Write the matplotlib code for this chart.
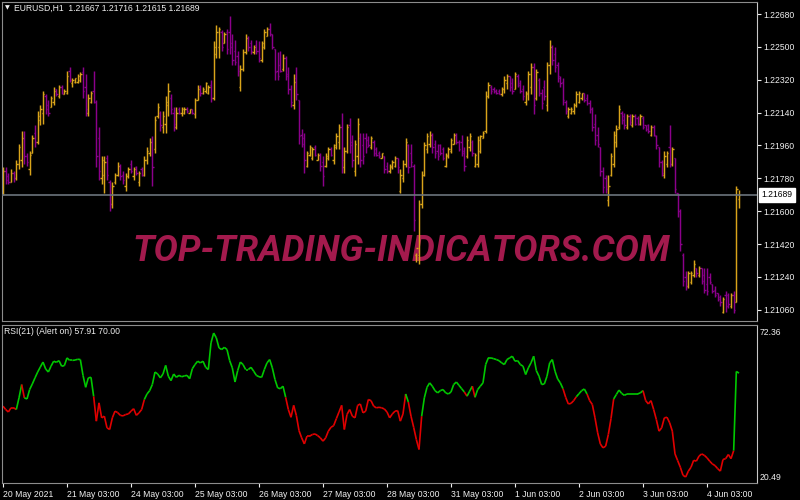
import numpy as np
import matplotlib
matplotlib.use("Agg")
import matplotlib.pyplot as plt
from matplotlib.collections import LineCollection

plt.rcParams['font.family'] = ['Liberation Sans', 'DejaVu Sans']

symbol = "EURUSD,H1"

# hourly bars, 20 May 2021 03:00 -> 4 Jun 2021 15:00
open_ = [
    1.2170, 1.2182, 1.2179, 1.2176, 1.2181, 1.2178, 1.2186, 1.2188, 1.2200, 1.2190,
    1.2183, 1.2192, 1.2203, 1.2198, 1.2210, 1.2214, 1.2223, 1.2218, 1.2217, 1.2220,
    1.2227, 1.2223, 1.2228, 1.2224, 1.2225, 1.2237, 1.2230, 1.2231, 1.2231, 1.2232,
    1.2236, 1.2228, 1.2214, 1.2220, 1.2226, 1.2220, 1.2200, 1.2178, 1.2180, 1.2189,
    1.2176, 1.2164, 1.2176, 1.2180, 1.2185, 1.2180, 1.2174, 1.2179, 1.2186, 1.2179,
    1.2184, 1.2176, 1.2183, 1.2180, 1.2188, 1.2192, 1.2198, 1.2194, 1.2212, 1.2214,
    1.2206, 1.2208, 1.2218, 1.2222, 1.2214, 1.2206, 1.2216, 1.2214, 1.2214, 1.2216,
    1.2214, 1.2216, 1.2213, 1.2221, 1.2228, 1.2225, 1.2226, 1.2225, 1.2229, 1.2222,
    1.2246, 1.2250, 1.2258, 1.2252, 1.2258, 1.2258, 1.2252, 1.2248, 1.2245, 1.2228,
    1.2238, 1.2247, 1.2255, 1.2252, 1.2247, 1.2251, 1.2248, 1.2243, 1.2250, 1.2256,
    1.2260, 1.2257, 1.2249, 1.2237, 1.2240, 1.2238, 1.2244, 1.2235, 1.2227, 1.2218,
    1.2233, 1.2221, 1.2202, 1.2200, 1.2185, 1.2191, 1.2189, 1.2195, 1.2188, 1.2191,
    1.2187, 1.2185, 1.2189, 1.2194, 1.2188, 1.2195, 1.2198, 1.2206, 1.2184, 1.2193,
    1.2207, 1.2198, 1.2182, 1.2190, 1.2200, 1.2196, 1.2200, 1.2199, 1.2195, 1.2198,
    1.2194, 1.2192, 1.2189, 1.2190, 1.2185, 1.2182, 1.2184, 1.2185, 1.2189, 1.2171,
    1.2178, 1.2186, 1.2196, 1.2192, 1.2185, 1.2136, 1.2136, 1.2164, 1.2180, 1.2194,
    1.2197, 1.2202, 1.2197, 1.2193, 1.2196, 1.2194, 1.2185, 1.2190, 1.2193, 1.2197,
    1.2202, 1.2198, 1.2198, 1.2193, 1.2190, 1.2195, 1.2198, 1.2185, 1.2186, 1.2193,
    1.2200, 1.2204, 1.2223, 1.2228, 1.2227, 1.2226, 1.2226, 1.2224, 1.2227, 1.2230,
    1.2234, 1.2230, 1.2227, 1.2234, 1.2230, 1.2227, 1.2220, 1.2224, 1.2228, 1.2239,
    1.2222, 1.2232, 1.2225, 1.2228, 1.2218, 1.2240, 1.2250, 1.2246, 1.2240, 1.2233,
    1.2231, 1.2220, 1.2212, 1.2214, 1.2215, 1.2218, 1.2220, 1.2222, 1.2225, 1.2222,
    1.2219, 1.2216, 1.2208, 1.2202, 1.2195, 1.2182, 1.2178, 1.2166, 1.2180, 1.2186,
    1.2198, 1.2206, 1.2214, 1.2212, 1.2206, 1.2212, 1.2207, 1.2212, 1.2211, 1.2208,
    1.2211, 1.2207, 1.2207, 1.2202, 1.2206, 1.2201, 1.2195, 1.2187, 1.2180, 1.2186,
    1.2195, 1.2186, 1.2189, 1.2170, 1.2160, 1.2136, 1.2124, 1.2119, 1.2121, 1.2125,
    1.2129, 1.2125, 1.2129, 1.2125, 1.2120, 1.2124, 1.2120, 1.2117, 1.2115, 1.2113,
    1.2105, 1.2114, 1.2114, 1.2108, 1.2114, 1.2110, 1.21667,
]
high = [
    1.2184, 1.2184, 1.2181, 1.2183, 1.2182, 1.2188, 1.2197, 1.2204, 1.2204, 1.2192,
    1.2193, 1.2202, 1.2207, 1.2215, 1.2218, 1.2226, 1.2224, 1.2221, 1.2223, 1.2228,
    1.2227, 1.2229, 1.2229, 1.2227, 1.2237, 1.2239, 1.2233, 1.2233, 1.2235, 1.2236,
    1.2239, 1.2235, 1.2224, 1.2226, 1.2237, 1.2221, 1.2206, 1.2190, 1.2190, 1.2191,
    1.2177, 1.2176, 1.2181, 1.2187, 1.2186, 1.2182, 1.2181, 1.2184, 1.2188, 1.2184,
    1.2185, 1.2182, 1.2184, 1.2190, 1.2195, 1.2200, 1.2201, 1.2212, 1.2219, 1.2215,
    1.2215, 1.2223, 1.2230, 1.2224, 1.2217, 1.2217, 1.2217, 1.2217, 1.2217, 1.2217,
    1.2216, 1.2216, 1.2222, 1.2229, 1.2229, 1.2228, 1.2231, 1.2229, 1.2232, 1.2253,
    1.2262, 1.2261, 1.2259, 1.2258, 1.2260, 1.2267, 1.2257, 1.2254, 1.2248, 1.2240,
    1.2249, 1.2257, 1.2256, 1.2254, 1.2251, 1.2254, 1.2253, 1.2253, 1.2260, 1.2261,
    1.2263, 1.2257, 1.2249, 1.2247, 1.2248, 1.2246, 1.2245, 1.2239, 1.2229, 1.2235,
    1.2239, 1.2221, 1.2205, 1.2203, 1.2193, 1.2196, 1.2195, 1.2196, 1.2192, 1.2192,
    1.2190, 1.2192, 1.2195, 1.2195, 1.2197, 1.2203, 1.2208, 1.2214, 1.2195, 1.2208,
    1.2211, 1.2202, 1.2199, 1.2211, 1.2203, 1.2203, 1.2203, 1.2201, 1.2201, 1.2199,
    1.2195, 1.2193, 1.2192, 1.2190, 1.2187, 1.2186, 1.2188, 1.2190, 1.2189, 1.2183,
    1.2188, 1.2200, 1.2197, 1.2197, 1.2186, 1.2137, 1.2166, 1.2182, 1.2198, 1.2203,
    1.2204, 1.2203, 1.2199, 1.2197, 1.2197, 1.2195, 1.2192, 1.2195, 1.2200, 1.2203,
    1.2203, 1.2199, 1.2202, 1.2195, 1.2201, 1.2203, 1.2199, 1.2192, 1.2201, 1.2202,
    1.2204, 1.2226, 1.2231, 1.2229, 1.2228, 1.2227, 1.2227, 1.2228, 1.2234, 1.2235,
    1.2234, 1.2233, 1.2236, 1.2235, 1.2232, 1.2229, 1.2226, 1.2237, 1.2241, 1.2241,
    1.2238, 1.2233, 1.2227, 1.2232, 1.2242, 1.2254, 1.2251, 1.2250, 1.2242, 1.2234,
    1.2233, 1.2221, 1.2217, 1.2217, 1.2219, 1.2226, 1.2226, 1.2225, 1.2225, 1.2224,
    1.2221, 1.2217, 1.2213, 1.2206, 1.2195, 1.2184, 1.2180, 1.2180, 1.2192, 1.2204,
    1.2207, 1.2218, 1.2215, 1.2214, 1.2213, 1.2213, 1.2213, 1.2213, 1.2212, 1.2213,
    1.2212, 1.2207, 1.2208, 1.2207, 1.2207, 1.2202, 1.2195, 1.2188, 1.2193, 1.2193,
    1.2207, 1.2195, 1.2189, 1.2170, 1.2161, 1.2137, 1.2127, 1.2127, 1.2127, 1.2133,
    1.2129, 1.2130, 1.2129, 1.2129, 1.2129, 1.2126, 1.2120, 1.2119, 1.2115, 1.2114,
    1.2113, 1.2116, 1.2115, 1.2115, 1.2116, 1.2174, 1.21716,
]
low = [
    1.2169, 1.2175, 1.2175, 1.2176, 1.2176, 1.2177, 1.2183, 1.2184, 1.2186, 1.2185,
    1.2180, 1.2192, 1.2195, 1.2197, 1.2207, 1.2208, 1.2213, 1.2212, 1.2217, 1.2218,
    1.2223, 1.2222, 1.2224, 1.2224, 1.2224, 1.2231, 1.2228, 1.2230, 1.2230, 1.2231,
    1.2222, 1.2212, 1.2212, 1.2219, 1.2219, 1.2184, 1.2177, 1.2175, 1.2170, 1.2177,
    1.2160, 1.2162, 1.2175, 1.2179, 1.2177, 1.2175, 1.2171, 1.2178, 1.2181, 1.2177,
    1.2180, 1.2174, 1.2179, 1.2179, 1.2186, 1.2190, 1.2174, 1.2192, 1.2211, 1.2204,
    1.2203, 1.2203, 1.2212, 1.2213, 1.2204, 1.2205, 1.2213, 1.2212, 1.2213, 1.2214,
    1.2214, 1.2213, 1.2211, 1.2221, 1.2223, 1.2224, 1.2225, 1.2224, 1.2220, 1.2221,
    1.2244, 1.2244, 1.2248, 1.2252, 1.2246, 1.2246, 1.2240, 1.2240, 1.2234, 1.2226,
    1.2237, 1.2246, 1.2248, 1.2246, 1.2246, 1.2246, 1.2242, 1.2242, 1.2249, 1.2256,
    1.2256, 1.2249, 1.2232, 1.2232, 1.2236, 1.2237, 1.2232, 1.2224, 1.2217, 1.2216,
    1.2221, 1.2197, 1.2195, 1.2181, 1.2184, 1.2190, 1.2188, 1.2190, 1.2188, 1.2182,
    1.2174, 1.2184, 1.2188, 1.2190, 1.2186, 1.2194, 1.2194, 1.2181, 1.2181, 1.2192,
    1.2192, 1.2184, 1.2179, 1.2186, 1.2184, 1.2186, 1.2192, 1.2195, 1.2194, 1.2190,
    1.2190, 1.2189, 1.2189, 1.2181, 1.2181, 1.2181, 1.2183, 1.2184, 1.2181, 1.2170,
    1.2176, 1.2184, 1.2181, 1.2184, 1.2149, 1.2132, 1.2131, 1.2162, 1.2179, 1.2192,
    1.2195, 1.2192, 1.2189, 1.2188, 1.2191, 1.2188, 1.2184, 1.2189, 1.2192, 1.2197,
    1.2197, 1.2193, 1.2190, 1.2182, 1.2189, 1.2193, 1.2190, 1.2184, 1.2184, 1.2192,
    1.2200, 1.2203, 1.2222, 1.2224, 1.2225, 1.2224, 1.2224, 1.2223, 1.2225, 1.2227,
    1.2226, 1.2224, 1.2227, 1.2228, 1.2225, 1.2221, 1.2218, 1.2221, 1.2224, 1.2213,
    1.2221, 1.2223, 1.2216, 1.2221, 1.2215, 1.2235, 1.2240, 1.2236, 1.2231, 1.2228,
    1.2218, 1.2213, 1.2211, 1.2213, 1.2213, 1.2217, 1.2219, 1.2221, 1.2220, 1.2218,
    1.2214, 1.2204, 1.2196, 1.2195, 1.2179, 1.2170, 1.2170, 1.2163, 1.2179, 1.2184,
    1.2195, 1.2205, 1.2208, 1.2205, 1.2205, 1.2207, 1.2206, 1.2207, 1.2207, 1.2207,
    1.2205, 1.2204, 1.2203, 1.2201, 1.2201, 1.2194, 1.2184, 1.2179, 1.2178, 1.2184,
    1.2184, 1.2185, 1.2170, 1.2157, 1.2138, 1.2119, 1.2117, 1.2118, 1.2120, 1.2124,
    1.2124, 1.2124, 1.2120, 1.2115, 1.2114, 1.2120, 1.2115, 1.2113, 1.2111, 1.2108,
    1.2104, 1.2105, 1.2107, 1.2107, 1.2104, 1.2110, 1.21615,
]
close = [
    1.2182, 1.2177, 1.2176, 1.2181, 1.2178, 1.2186, 1.2195, 1.2200, 1.2190, 1.2187,
    1.2191, 1.2200, 1.2198, 1.2212, 1.2216, 1.2224, 1.2216, 1.2214, 1.2222, 1.2226,
    1.2224, 1.2228, 1.2225, 1.2226, 1.2234, 1.2232, 1.2232, 1.2233, 1.2234, 1.2235,
    1.2226, 1.2216, 1.2222, 1.2225, 1.2220, 1.2190, 1.2182, 1.2188, 1.2187, 1.2180,
    1.2164, 1.2174, 1.2180, 1.2185, 1.2179, 1.2177, 1.2179, 1.2183, 1.2182, 1.2183,
    1.2181, 1.2181, 1.2180, 1.2188, 1.2193, 1.2198, 1.2184, 1.2210, 1.2217, 1.2207,
    1.2212, 1.2220, 1.2226, 1.2216, 1.2208, 1.2214, 1.2214, 1.2216, 1.2216, 1.2215,
    1.2216, 1.2214, 1.2221, 1.2227, 1.2225, 1.2227, 1.2230, 1.2228, 1.2222, 1.2250,
    1.2258, 1.2260, 1.2250, 1.2257, 1.2249, 1.2250, 1.2243, 1.2242, 1.2237, 1.2238,
    1.2247, 1.2255, 1.2250, 1.2248, 1.2250, 1.2248, 1.2244, 1.2252, 1.2258, 1.2260,
    1.2257, 1.2250, 1.2236, 1.2234, 1.2237, 1.2244, 1.2234, 1.2227, 1.2220, 1.2231,
    1.2224, 1.2201, 1.2197, 1.2188, 1.2192, 1.2195, 1.2194, 1.2191, 1.2191, 1.2185,
    1.2179, 1.2190, 1.2194, 1.2191, 1.2196, 1.2201, 1.2206, 1.2188, 1.2193, 1.2206,
    1.2196, 1.2188, 1.2197, 1.2208, 1.2188, 1.2190, 1.2195, 1.2196, 1.2200, 1.2192,
    1.2191, 1.2190, 1.2192, 1.2183, 1.2182, 1.2185, 1.2187, 1.2189, 1.2184, 1.2180,
    1.2186, 1.2198, 1.2184, 1.2187, 1.2155, 1.2140, 1.2164, 1.2180, 1.2196, 1.2201,
    1.2202, 1.2195, 1.2192, 1.2190, 1.2192, 1.2189, 1.2191, 1.2194, 1.2199, 1.2202,
    1.2198, 1.2194, 1.2192, 1.2185, 1.2199, 1.2201, 1.2192, 1.2191, 1.2199, 1.2201,
    1.2203, 1.2223, 1.2229, 1.2226, 1.2226, 1.2225, 1.2224, 1.2227, 1.2232, 1.2234,
    1.2228, 1.2226, 1.2235, 1.2229, 1.2226, 1.2223, 1.2225, 1.2235, 1.2239, 1.2218,
    1.2236, 1.2225, 1.2219, 1.2223, 1.2240, 1.2250, 1.2243, 1.2239, 1.2234, 1.2230,
    1.2221, 1.2215, 1.2216, 1.2216, 1.2218, 1.2224, 1.2225, 1.2225, 1.2221, 1.2219,
    1.2216, 1.2206, 1.2199, 1.2197, 1.2182, 1.2173, 1.2172, 1.2174, 1.2190, 1.2202,
    1.2205, 1.2216, 1.2210, 1.2207, 1.2212, 1.2209, 1.2212, 1.2208, 1.2208, 1.2212,
    1.2206, 1.2205, 1.2204, 1.2206, 1.2202, 1.2196, 1.2187, 1.2181, 1.2190, 1.2192,
    1.2186, 1.2194, 1.2172, 1.2160, 1.2142, 1.2122, 1.2119, 1.2126, 1.2126, 1.2131,
    1.2126, 1.2129, 1.2122, 1.2117, 1.2116, 1.2121, 1.2116, 1.2114, 1.2112, 1.2110,
    1.2112, 1.2108, 1.2109, 1.2114, 1.2106, 1.2172, 1.21689,
]

rsi = [
    46.0, 44.8, 43.9, 45.4, 45.4, 44.8, 49.0, 53.8, 49.0, 48.6,
    52.0, 54.0, 56.2, 58.3, 60.1, 61.9, 59.4, 58.3, 60.4, 62.2,
    61.8, 62.4, 60.4, 60.6, 63.4, 62.5, 62.5, 62.6, 62.9, 62.8,
    57.1, 52.8, 56.2, 56.4, 49.5, 40.6, 47.2, 41.8, 42.4, 38.2,
    37.6, 41.8, 44.2, 43.7, 42.7, 42.5, 43.0, 43.2, 44.2, 45.1,
    42.7, 43.6, 44.8, 48.4, 50.4, 51.6, 53.8, 58.3, 57.6, 56.2,
    57.6, 60.7, 56.8, 55.2, 57.6, 56.4, 57.1, 56.6, 56.9, 57.1,
    55.9, 59.5, 61.0, 62.2, 61.6, 62.2, 60.0, 59.2, 68.8, 72.36,
    70.6, 67.0, 66.4, 67.2, 66.4, 62.4, 59.8, 54.7, 58.8, 61.9,
    61.0, 59.2, 59.2, 60.0, 58.6, 57.1, 56.6, 56.4, 59.2, 61.6,
    62.8, 59.8, 55.6, 52.6, 52.3, 53.2, 49.2, 44.8, 42.0, 46.3,
    42.7, 37.2, 34.6, 32.4, 35.2, 35.2, 35.8, 36.0, 35.4, 34.6,
    33.4, 34.6, 37.0, 38.4, 39.0, 41.5, 43.9, 46.3, 37.6, 43.0,
    44.8, 42.4, 41.8, 46.3, 46.8, 43.6, 44.2, 48.4, 48.0, 46.0,
    45.4, 45.6, 45.4, 45.0, 43.9, 41.8, 43.2, 44.2, 44.4, 40.6,
    43.2, 50.4, 47.5, 42.4, 38.4, 34.0, 30.4, 42.4, 49.0, 52.8,
    54.4, 53.2, 51.6, 50.8, 51.6, 52.0, 50.8, 50.4, 51.1, 53.8,
    54.7, 53.5, 52.3, 51.1, 49.6, 51.4, 53.2, 49.2, 52.0, 53.2,
    54.4, 61.0, 63.4, 63.4, 63.1, 62.8, 62.4, 61.6, 61.0, 62.8,
    63.4, 64.0, 62.2, 62.4, 61.0, 60.4, 57.4, 59.8, 61.6, 64.0,
    58.8, 56.8, 53.8, 54.0, 56.8, 61.6, 62.8, 58.6, 55.8, 54.4,
    52.3, 49.2, 46.8, 47.0, 48.0, 49.4, 50.5, 51.6, 52.2, 50.4,
    48.0, 46.6, 41.8, 36.4, 32.4, 31.0, 31.6, 35.8, 41.5, 48.6,
    50.2, 51.8, 50.6, 49.9, 50.4, 50.4, 50.4, 50.4, 50.4, 50.8,
    51.6, 48.0, 46.8, 48.0, 44.8, 41.2, 37.0, 38.2, 41.8, 42.0,
    40.0, 37.0, 28.8, 26.4, 24.0, 21.1, 20.49, 22.6, 24.0, 26.5,
    26.2, 28.0, 28.8, 28.3, 27.4, 26.2, 25.2, 24.6, 23.5, 22.6,
    26.8, 27.1, 28.6, 27.1, 30.0, 58.5, 57.91,
]
# bar ranges where the RSI line is drawn green (red elsewhere)
green_spans = [(5, 7), (8, 34), (53, 106), (151, 152), (157, 173), (174, 176),
               (177, 210), (215, 219), (229, 240), (274, 276)]

price_ticks = [1.22680, 1.22500, 1.22320, 1.22140, 1.21960, 1.21780,
               1.21600, 1.21420, 1.21240, 1.21060]
date_pos = [0, 24, 48, 72, 96, 120, 144, 168, 192, 216, 240, 264]
date_labels = ["20 May 2021", "21 May 03:00", "24 May 03:00", "25 May 03:00",
               "26 May 03:00", "27 May 03:00", "28 May 03:00", "31 May 03:00",
               "1 Jun 03:00", "2 Jun 03:00", "3 Jun 03:00", "4 Jun 03:00"]

bull_col = '#d9a41a'
bear_col = '#8b008b'
frame_col = '#8c8c8c'
txt_col = '#f0f0f0'

x = np.arange(len(close))
o = np.array(open_)
c = np.array(close)
bar_cols = np.where(c >= o, bull_col, bear_col)

fig = plt.figure(figsize=(8, 5), dpi=100, facecolor='black')
ax1 = fig.add_axes([2 / 800, 1 - 320.5 / 500, 755 / 800, 318.5 / 500])
ax2 = fig.add_axes([2 / 800, 1 - 483 / 500, 755 / 800, 158.5 / 500])

for ax in (ax1, ax2):
    ax.set_facecolor('black')
    ax.set_xlim(-0.375, 282.75)
    for s in ax.spines.values():
        s.set_color(frame_col)
        s.set_linewidth(0.8)
    ax.spines['right'].set_color('#c8c8c8')

# price pane
ax1.vlines(x, low, high, colors=bar_cols, lw=1.05, zorder=2)
ax1.hlines(open_, x - 0.5, x, colors=bar_cols, lw=1.0, zorder=2)
ax1.hlines(close, x, x + 0.5, colors=bar_cols, lw=1.0, zorder=2)
ax1.axhline(close[-1], color='#6c747c', lw=1.2, zorder=3)
ax1.set_ylim(1.21001, 1.22746)
ax1.set_xticks([])
ax1.yaxis.tick_right()
ax1.set_yticks(price_ticks)
ax1.set_yticklabels([f"{t:.5f}" for t in price_ticks])
ax1.tick_params(axis='y', colors=txt_col, labelsize=6.2, length=3, width=0.8, pad=1.5)
ax1.text(1.006, close[-1], f"{close[-1]:.5f}", transform=ax1.get_yaxis_transform(),
         fontsize=6.2, color='black', va='center', ha='left',
         bbox=dict(boxstyle='square,pad=0.25', fc='white', ec='white'))

ax1.text(401.5 / 800, 1 - 260.7 / 500, 'TOP-TRADING-INDICATORS.COM',
         transform=fig.transFigure, ha='center', va='baseline', color='#a31a4d',
         fontsize=26, fontweight='bold', fontstyle='italic',
         family=['Roboto', 'DejaVu Sans'], zorder=1)

# RSI pane
pts = np.column_stack([x, rsi])
segs = np.stack([pts[:-1], pts[1:]], axis=1)
seg_cols = ['#e00000'] * len(segs)
for a, b in green_spans:
    for k in range(a, min(b, len(segs))):
        seg_cols[k] = '#00c800'
ax2.add_collection(LineCollection(segs, colors=seg_cols, lw=1.2))
ax2.set_ylim(18.33, 75.42)
ax2.set_yticks([])
ax2.set_xticks(date_pos)
ax2.set_xticklabels(date_labels)
for lab in ax2.get_xticklabels():
    lab.set_ha('left')
ax2.tick_params(axis='x', colors=txt_col, labelsize=6.2, length=3, width=0.8, pad=2)
ax2.text(1.004, max(rsi), f"{max(rsi):.2f}", transform=ax2.get_yaxis_transform(),
         fontsize=6.2, color=txt_col, va='center', ha='left')
ax2.text(1.004, min(rsi), f"{min(rsi):.2f}", transform=ax2.get_yaxis_transform(),
         fontsize=6.2, color=txt_col, va='center', ha='left')

# header texts
fig.text(7 / 800, 1 - 8 / 500, '\u25bc', fontsize=4.5, color=txt_col,
         family='DejaVu Sans', ha='center', va='center')
fig.text(14 / 800, 1 - 8 / 500,
         f"{symbol}  {open_[-1]:.5f} {high[-1]:.5f} {low[-1]:.5f} {close[-1]:.5f}",
         fontsize=6.2, color=txt_col, va='center', ha='left')
fig.text(4 / 800, 1 - 331.5 / 500, f"RSI(21) (Alert on) {rsi[-1]:.2f} 70.00",
         fontsize=6.2, color=txt_col, va='center', ha='left')

fig.savefig('out.png', dpi=100, facecolor='black')
